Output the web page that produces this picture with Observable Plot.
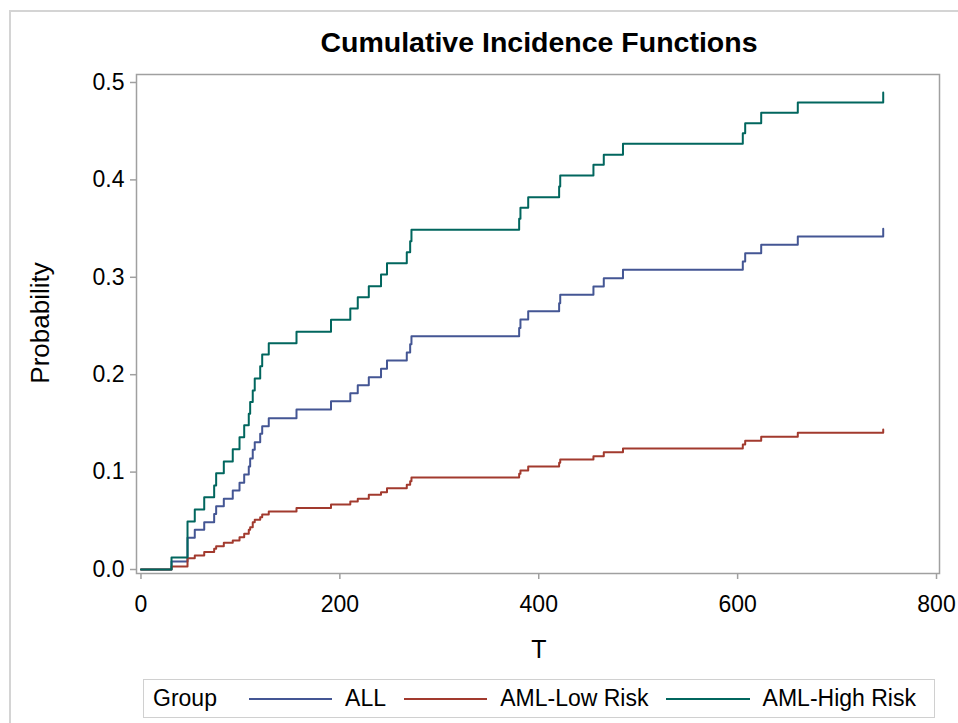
<!DOCTYPE html>
<html>
<head>
<meta charset="utf-8">
<script src="https://cdn.jsdelivr.net/npm/d3@7"></script>
<script src="https://cdn.jsdelivr.net/npm/@observablehq/plot@0.6"></script>
<style>
  html, body { margin: 0; padding: 0; background: #fff; }
  body { width: 958px; height: 723px; position: relative; overflow: hidden;
         font-family: "Liberation Sans", Arial, sans-serif; }
  #outer { position: absolute; left: 9px; top: 10px; width: 1000px; height: 800px;
           border-left: 2px solid #d4d4d4; border-top: 2px solid #d4d4d4; }
  #chart { position: absolute; left: 0; top: 0; }
  #title { position: absolute; left: 0; width: 1078px; top: 26px; text-align: center;
           font-weight: bold; font-size: 28.5px; color: #000; }
  #ylab { position: absolute; left: 40px; top: 323px; font-size: 26px; color: #000;
          transform: translate(-50%, -50%) rotate(-90deg); white-space: nowrap; }
  #xlab { position: absolute; left: 539px; top: 649px; font-size: 25px; color: #000;
          transform: translate(-50%, -50%); }
  #legend { position: absolute; left: 143px; top: 679px; width: 792px; height: 39px;
            box-sizing: border-box; border: 1.5px solid #d0d0d0; display: flex;
            align-items: center; font-size: 23px; color: #000; white-space: nowrap; }
  .sw { display: inline-block; height: 0; border-top: 2px solid; }
</style>
</head>
<body>
<div id="outer"></div>
<div id="chart"></div>
<div id="title">Cumulative Incidence Functions</div>
<div id="ylab">Probability</div>
<div id="xlab">T</div>
<div id="legend"></div>
<script>
// Event times (T) shared by the step functions
const times = [0, 30.7, 46.8, 54.1, 63.6, 73.6, 75.6, 83.3, 92.3, 99.1, 103.8,
  108.4, 109.8, 112.4, 114.4, 119.9, 121.9, 128.5, 156.4, 191.1, 210.5,
  218.0, 229.1, 241.4, 247.4, 267.3, 270.7, 272.0, 380.3, 381.6, 389.4,
  420.5, 421.6, 455.0, 465.4, 484.7, 605.2, 607.6, 623.7, 660.5, 746.4];

const groups = ["ALL", "AML-Low Risk", "AML-High Risk"];
const colors = ["#445694", "#A23A2E", "#01665E"];

const allValues = [0, 0.0082, 0.0325, 0.0407, 0.0486, 0.0571, 0.065, 0.0726, 0.0811,
  0.089, 0.0975, 0.1057, 0.114, 0.1229, 0.1307, 0.1393, 0.1471, 0.1553, 0.1643,
  0.1728, 0.181, 0.1892, 0.1974, 0.206, 0.2146, 0.2228, 0.2313, 0.2395, 0.248,
  0.2567, 0.2652, 0.2734, 0.282, 0.2906, 0.299, 0.3077, 0.3162, 0.3248, 0.3333,
  0.342, 0.3498];

const lowValues = [0, 0.003, 0.0116, 0.0144, 0.0181, 0.0212, 0.024, 0.0274, 0.0298,
  0.0332, 0.0366, 0.0407, 0.0435, 0.0486, 0.051, 0.0537, 0.0565, 0.0595, 0.0631,
  0.0667, 0.0698, 0.0726, 0.0767, 0.0794, 0.0835, 0.087, 0.0907, 0.0945, 0.0982,
  0.1016, 0.1057, 0.1095, 0.1129, 0.1163, 0.1204, 0.1242, 0.1283, 0.1321, 0.1362,
  0.1403, 0.1437];

const highValues = [0, 0.0122, 0.0493, 0.0616, 0.0742, 0.0862, 0.0989, 0.111, 0.1235,
  0.1358, 0.148, 0.160, 0.172, 0.1838, 0.196, 0.2087, 0.2207, 0.2323, 0.244,
  0.2563, 0.268, 0.2796, 0.2909, 0.3029, 0.3145, 0.3258, 0.337, 0.3488, 0.360,
  0.3713, 0.3823, 0.3932, 0.4045, 0.4155, 0.4258, 0.437, 0.448, 0.4582, 0.469,
  0.4795, 0.4897];

const xTicks = [0, 200, 400, 600, 800];
const yTicks = [0, 0.1, 0.2, 0.3, 0.4, 0.5];

const series = [allValues, lowValues, highValues];
const rows = [];
series.forEach((vals, gi) => {
  vals.forEach((p, i) => rows.push({T: times[i], P: p, Group: groups[gi]}));
});

const axisColor = "#a0a0a0";
const chart = Plot.plot({
  width: 958,
  height: 723,
  marginLeft: 136,
  marginRight: 19,
  marginTop: 74,
  marginBottom: 150,
  style: {fontFamily: "'Liberation Sans', Arial, sans-serif", background: "transparent"},
  x: {domain: [-4.5, 803], ticks: xTicks},
  y: {domain: [-0.0041, 0.5082], ticks: yTicks},
  color: {domain: groups, range: colors},
  marks: [
    Plot.frame({stroke: axisColor, strokeWidth: 1.5}),
    Plot.axisX({ticks: xTicks, tickSize: 6, tickPadding: 16, stroke: axisColor,
      strokeWidth: 1.5, fontSize: 23, fill: "#000", label: null, tickFormat: d => d3.format("d")(d)}),
    Plot.axisY({ticks: yTicks, tickSize: 6, tickPadding: 6, stroke: axisColor,
      strokeWidth: 1.5, fontSize: 23, fill: "#000", label: null, tickFormat: ".1f"}),
    Plot.line(rows, {x: "T", y: "P", z: "Group", stroke: "Group", curve: "step-after",
      strokeWidth: 2})
  ]
});
document.getElementById("chart").appendChild(chart);

// Legend
const legend = document.getElementById("legend");
const head = document.createElement("span");
head.textContent = "Group";
head.style.marginLeft = "9px";
head.style.marginRight = "32px";
legend.appendChild(head);
groups.forEach((g, i) => {
  const sw = document.createElement("span");
  sw.className = "sw";
  sw.style.borderTopColor = colors[i];
  sw.style.width = "90px";
  sw.style.marginRight = "13px";
  legend.appendChild(sw);
  const t = document.createElement("span");
  t.textContent = g;
  t.style.marginRight = "18px";
  legend.appendChild(t);
});
</script>
</body>
</html>
